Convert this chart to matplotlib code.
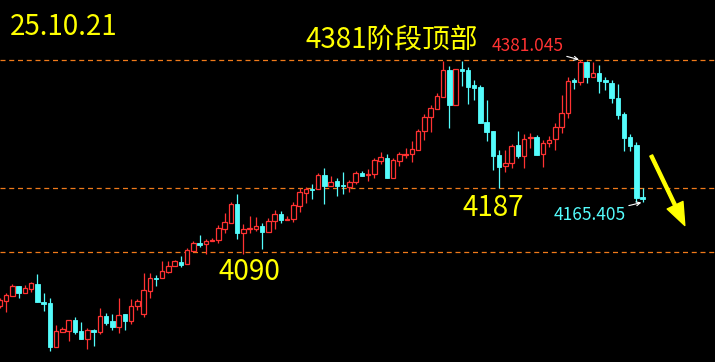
import matplotlib
matplotlib.use("Agg")
import matplotlib.pyplot as plt
import numpy as np

# fonte com cjk primeiro, dejavu como reserva
plt.rcParams['font.family'] = ['Noto Sans CJK SC', 'DejaVu Sans']

# ohlc (um candle por periodo)
opens = [4008.1, 4015.7, 4023.3, 4038.4, 4027.8, 4033.9, 4041.5, 4014.2, 4012.6, 3945.9,
         3968.7, 3970.2, 3986.9, 3970.2, 3958.1, 3971.7, 3968.7, 3992.9, 3985.4, 3976.3,
         3996.0, 3985.4, 4008.1, 3996.0, 4030.8, 4050.6, 4050.6, 4059.6, 4068.7, 4074.8,
         4071.8, 4091.5, 4103.6, 4102.1, 4106.6, 4108.2, 4124.8, 4133.9, 4162.7, 4118.8,
         4124.8, 4124.8, 4129.4, 4120.3, 4136.9, 4147.6, 4138.5, 4140.0, 4159.7, 4179.4,
         4185.5, 4185.5, 4206.7, 4190.0, 4197.6, 4191.5, 4188.5, 4196.1, 4209.7, 4206.7,
         4208.2, 4227.9, 4232.5, 4202.2, 4227.9, 4237.0, 4238.5, 4244.6, 4273.4, 4294.6,
         4306.8, 4325.0, 4365.9, 4312.8, 4367.4, 4365.9, 4343.1, 4340.1, 4287.0, 4273.4,
         4237.0, 4220.3, 4224.9, 4252.2, 4235.5, 4262.8, 4264.3, 4238.5, 4255.2, 4261.3,
         4279.5, 4300.7, 4350.7, 4347.7, 4378.0, 4355.3, 4361.3, 4350.7, 4346.2, 4323.4,
         4299.2, 4264.3, 4252.2, 4173.3]
closes = [4017.2, 4024.8, 4038.4, 4027.8, 4035.4, 4043.0, 4014.2, 4011.1, 3945.9, 3970.2,
          3973.2, 3986.9, 3968.7, 3958.1, 3971.7, 3968.7, 3992.9, 3982.3, 3976.3, 3994.5,
          3985.4, 4008.1, 4015.7, 4032.4, 4050.6, 4049.0, 4061.2, 4068.7, 4076.3, 4070.3,
          4093.0, 4103.6, 4100.6, 4106.6, 4108.2, 4126.4, 4135.4, 4162.7, 4118.8, 4124.8,
          4126.4, 4129.4, 4120.3, 4136.9, 4147.6, 4138.5, 4140.0, 4161.2, 4180.9, 4185.5,
          4184.0, 4206.7, 4190.0, 4196.1, 4190.0, 4190.0, 4196.1, 4209.7, 4205.2, 4208.2,
          4229.4, 4234.0, 4202.2, 4229.4, 4238.5, 4238.5, 4246.1, 4273.4, 4294.6, 4308.3,
          4326.5, 4365.9, 4312.8, 4367.4, 4364.4, 4340.1, 4338.6, 4285.5, 4271.9, 4235.5,
          4218.8, 4224.9, 4250.7, 4235.5, 4261.3, 4264.3, 4237.0, 4255.2, 4259.8, 4279.5,
          4300.7, 4349.2, 4347.7, 4378.0, 4355.3, 4361.3, 4349.2, 4347.7, 4323.4, 4297.7,
          4262.8, 4250.7, 4171.8, 4170.3]
highs = [4020.2, 4027.8, 4041.5, 4038.4, 4040.0, 4044.5, 4056.6, 4027.8, 4020.2, 3979.3,
         3976.3, 3986.9, 3991.4, 3983.8, 3974.8, 3973.2, 4005.1, 3997.5, 3996.0, 4020.2,
         3996.0, 4018.7, 4018.7, 4058.1, 4058.1, 4055.1, 4076.3, 4076.3, 4077.8, 4083.9,
         4096.0, 4106.6, 4115.7, 4109.7, 4111.2, 4130.9, 4149.1, 4165.8, 4177.9, 4132.4,
         4144.5, 4143.0, 4133.9, 4141.5, 4153.6, 4152.1, 4144.5, 4165.8, 4187.0, 4188.5,
         4193.1, 4209.7, 4217.3, 4205.2, 4202.2, 4211.2, 4199.1, 4212.8, 4212.8, 4215.8,
         4232.5, 4241.6, 4238.5, 4232.5, 4241.6, 4247.6, 4258.2, 4276.4, 4299.2, 4312.8,
         4331.0, 4379.5, 4371.9, 4367.4, 4379.5, 4370.4, 4350.7, 4343.1, 4320.4, 4273.4,
         4244.6, 4244.6, 4253.7, 4273.4, 4268.9, 4270.4, 4267.3, 4259.8, 4265.8, 4285.5,
         4328.0, 4355.3, 4353.8, 4381.045, 4380.0, 4378.0, 4373.5, 4355.3, 4350.7, 4344.7,
         4302.2, 4268.9, 4256.7, 4187.0]
lows = [4005.1, 3999.0, 4023.3, 4020.2, 4027.8, 4029.3, 4014.2, 4000.5, 3939.9, 3945.9,
        3968.7, 3955.0, 3965.7, 3958.1, 3942.9, 3947.5, 3965.7, 3979.3, 3971.7, 3967.2,
        3971.7, 3980.8, 4002.0, 3991.4, 4020.2, 4038.4, 4050.6, 4058.1, 4068.7, 4067.2,
        4071.8, 4091.5, 4097.6, 4086.9, 4106.6, 4103.6, 4118.8, 4133.9, 4109.7, 4086.9,
        4118.8, 4121.8, 4094.5, 4120.3, 4124.8, 4133.9, 4138.5, 4135.4, 4150.6, 4164.3,
        4170.3, 4185.5, 4162.7, 4190.0, 4174.9, 4177.9, 4180.9, 4193.1, 4205.2, 4197.6,
        4202.2, 4223.4, 4202.2, 4202.2, 4220.3, 4232.5, 4226.4, 4244.6, 4259.8, 4271.9,
        4306.8, 4325.0, 4278.0, 4312.8, 4341.6, 4314.3, 4320.4, 4285.5, 4258.2, 4214.3,
        4187.0, 4211.2, 4217.3, 4232.5, 4217.3, 4247.6, 4237.0, 4218.8, 4249.1, 4244.6,
        4270.4, 4293.1, 4337.1, 4343.1, 4346.2, 4355.3, 4331.0, 4335.6, 4315.9, 4291.6,
        4243.1, 4243.1, 4166.5, 4165.405]

# niveis marcados com linha tracejada
levels = [4381.045, 4187, 4090]
date_label = "25.10.21"
top_label = "4381阶段顶部"
mid_label = "4187"
low_label = "4090"
high_value = "4381.045"
low_value = "4165.405"

UP = '#ff3232'
DOWN = '#54fcfc'
LEVEL = '#f07a1a'
YELLOW = '#ffff00'

W, H = 715, 362


def px(x, y):
    # converte pixel (origem em cima) pra fracao da figura
    return x / W, 1 - y / H


opens = np.array(opens)
closes = np.array(closes)
highs = np.array(highs)
lows = np.array(lows)
idx = np.arange(len(opens))
up = closes >= opens

fig = plt.figure(figsize=(W / 100, H / 100), dpi=100, facecolor='black')
ax = fig.add_axes([0, 0, 1, 1], facecolor='black')

for lv in levels:
    ax.axhline(lv, color=LEVEL, lw=0.9, ls=(0, (4, 3)), zorder=1)

# pavios primeiro, corpo por cima
colors = np.where(up, UP, DOWN)
ax.vlines(idx, lows, highs, colors=colors, lw=0.9, zorder=2)

body_low = np.minimum(opens, closes)
body_h = np.maximum(np.abs(closes - opens), 0.6)
ax.bar(idx[up], body_h[up], bottom=body_low[up], width=0.72,
       facecolor='black', edgecolor=UP, linewidth=0.9, zorder=3)
ax.bar(idx[~up], body_h[~up], bottom=body_low[~up], width=0.72,
       facecolor=DOWN, edgecolor=DOWN, linewidth=0.6, zorder=3)

ax.set_xlim(0, W / 6.24)
ax.set_ylim(4381.045 - 302 * 1.516, 4381.045 + 60 * 1.516)
ax.axis('off')

fig.text(*px(10, 27), date_label, color=YELLOW, fontsize=20, ha='left', va='center')
fig.text(*px(392, 40), top_label, color=YELLOW, fontsize=20, ha='center', va='center')
fig.text(*px(493, 208), mid_label, color=YELLOW, fontsize=20, ha='center', va='center')
fig.text(*px(249, 272), low_label, color=YELLOW, fontsize=20, ha='center', va='center')

# rotulos de maxima e minima com setinha branca
top_i = int(np.argmin(np.abs(highs - float(high_value))))
bot_i = int(np.argmin(np.abs(lows - float(low_value))))
ax.annotate(high_value, xy=(top_i, highs[top_i]), xytext=px(528, 46),
            textcoords='figure fraction', color=UP, fontsize=12.5,
            ha='center', va='center',
            arrowprops=dict(arrowstyle='->', color='white', lw=0.8,
                            shrinkA=38, shrinkB=1, mutation_scale=7))
ax.annotate(low_value, xy=(bot_i, lows[bot_i]), xytext=px(590, 215),
            textcoords='figure fraction', color=DOWN, fontsize=12.5,
            ha='center', va='center',
            arrowprops=dict(arrowstyle='->', color='white', lw=0.8,
                            shrinkA=38, shrinkB=1, mutation_scale=7))

# seta amarela grande apontando pra baixo
ax.annotate('', xy=px(686, 228), xytext=px(650, 153),
            xycoords='figure fraction', textcoords='figure fraction',
            arrowprops=dict(arrowstyle='simple,head_width=0.7,head_length=0.9,tail_width=0.12',
                            color=YELLOW, mutation_scale=18))

fig.savefig('out.png', dpi=100, facecolor='black')
